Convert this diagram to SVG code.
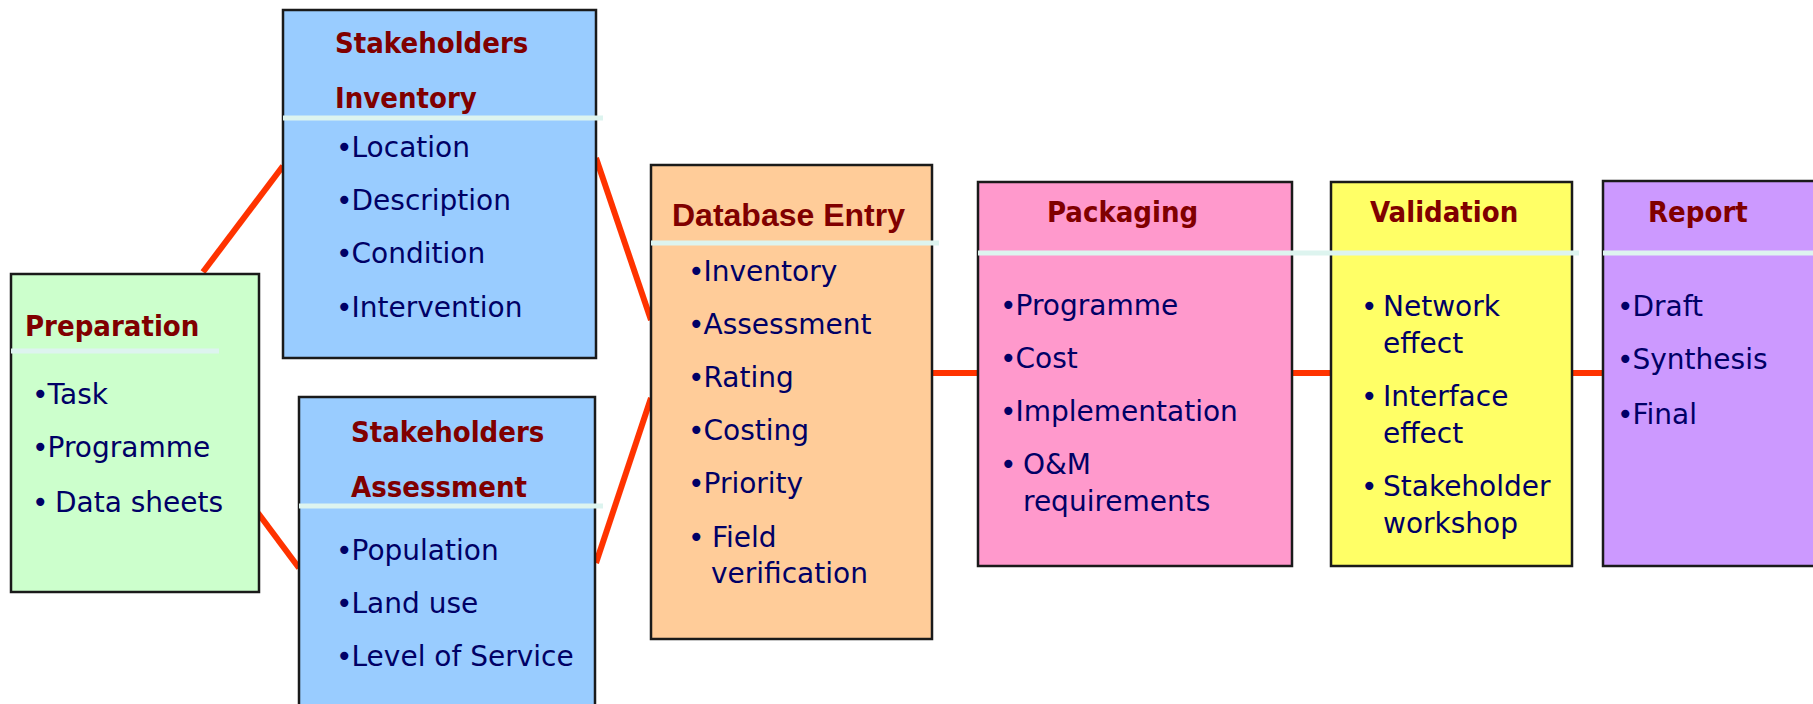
<svg xmlns="http://www.w3.org/2000/svg" width="1813" height="704" viewBox="0 0 1813 704">
  <style>
    .box { stroke: #1a1a1a; stroke-width: 2.5; }
    .sep { stroke: #DDF4EF; stroke-width: 5; }
    .link { stroke: #FF3300; stroke-width: 6; fill: none; }
    .title { font-family: "DejaVu Sans Condensed", "DejaVu Sans", sans-serif; font-stretch: condensed; font-weight: bold; font-size: 29px; fill: #800000; }
    .title2 { font-family: "Liberation Sans", Arial, sans-serif; font-weight: bold; font-size: 32px; fill: #800000; }
    .item { font-family: "DejaVu Sans", Verdana, sans-serif; font-size: 28px; fill: #000066; }
  </style>
  <rect width="1813" height="704" fill="#ffffff"/>

  <!-- connectors -->
  <g id="connectors">
    <line class="link" x1="203" y1="272" x2="283" y2="166"/>
    <line class="link" x1="258" y1="513" x2="299" y2="568"/>
    <line class="link" x1="596" y1="158" x2="651" y2="320"/>
    <line class="link" x1="596" y1="563" x2="651" y2="398"/>
    <line class="link" x1="932" y1="373" x2="978" y2="373"/>
    <line class="link" x1="1292" y1="373" x2="1331" y2="373"/>
    <line class="link" x1="1572" y1="373" x2="1603" y2="373"/>
  </g>

  <!-- Preparation -->
  <g id="preparation">
    <rect class="box" x="11" y="274" width="248" height="318" fill="#CCFFCC"/>
    <line class="sep" x1="11" y1="351" x2="219" y2="351"/>
    <text class="title" x="25" y="336">Preparation</text>
    <text class="item" x="32" y="404">•<tspan dx="-1">Task</tspan></text>
    <text class="item" x="32" y="457">•<tspan dx="-1">Programme</tspan></text>
    <text class="item" x="32" y="512">•<tspan x="55">Data sheets</tspan></text>
  </g>

  <!-- Stakeholders Inventory -->
  <g id="stakeholders-inventory">
    <rect class="box" x="283" y="10" width="313" height="348" fill="#99CCFF"/>
    <line class="sep" x1="283" y1="118" x2="603" y2="118"/>
    <text class="title" x="335" y="53">Stakeholders</text>
    <text class="title" x="335" y="108">Inventory</text>
    <text class="item" x="336" y="157">•<tspan dx="-1">Location</tspan></text>
    <text class="item" x="336" y="210">•<tspan dx="-1">Description</tspan></text>
    <text class="item" x="336" y="263">•<tspan dx="-1">Condition</tspan></text>
    <text class="item" x="336" y="317">•<tspan dx="-1">Intervention</tspan></text>
  </g>

  <!-- Stakeholders Assessment -->
  <g id="stakeholders-assessment">
    <rect class="box" x="299" y="397" width="296" height="330" fill="#99CCFF"/>
    <line class="sep" x1="299" y1="506" x2="603" y2="506"/>
    <text class="title" x="351" y="442">Stakeholders</text>
    <text class="title" x="351" y="497">Assessment</text>
    <text class="item" x="336" y="560">•<tspan dx="-1">Population</tspan></text>
    <text class="item" x="336" y="613">•<tspan dx="-1">Land use</tspan></text>
    <text class="item" x="336" y="666">•<tspan dx="-1">Level of Service</tspan></text>
  </g>

  <!-- Database Entry -->
  <g id="database-entry">
    <rect class="box" x="651" y="165" width="281" height="474" fill="#FFCC99"/>
    <line class="sep" x1="651" y1="243" x2="939" y2="243"/>
    <text class="title2" x="672" y="226">Database Entry</text>
    <text class="item" x="688" y="281">•<tspan dx="-1">Inventory</tspan></text>
    <text class="item" x="688" y="334">•<tspan dx="-1">Assessment</tspan></text>
    <text class="item" x="688" y="387">•<tspan dx="-1">Rating</tspan></text>
    <text class="item" x="688" y="440">•<tspan dx="-1">Costing</tspan></text>
    <text class="item" x="688" y="493">•<tspan dx="-1">Priority</tspan></text>
    <text class="item" x="688" y="547">•<tspan x="712">Field</tspan></text>
    <text class="item" x="711" y="583">verification</text>
  </g>

  <!-- Packaging -->
  <g id="packaging">
    <rect class="box" x="978" y="182" width="314" height="384" fill="#FF99CC"/>
    <text class="title" x="1047" y="222">Packaging</text>
    <text class="item" x="1000" y="315">•<tspan dx="-1">Programme</tspan></text>
    <text class="item" x="1000" y="368">•<tspan dx="-1">Cost</tspan></text>
    <text class="item" x="1000" y="421">•<tspan dx="-1">Implementation</tspan></text>
    <text class="item" x="1000" y="474">•<tspan x="1023">O&amp;M</tspan></text>
    <text class="item" x="1023" y="511">requirements</text>
  </g>

  <!-- Validation -->
  <g id="validation">
    <rect class="box" x="1331" y="182" width="241" height="384" fill="#FFFF66"/>
    <text class="title" x="1370" y="222">Validation</text>
    <text class="item" x="1361" y="316">•<tspan x="1383">Network</tspan></text>
    <text class="item" x="1383" y="353">effect</text>
    <text class="item" x="1361" y="406">•<tspan x="1383">Interface</tspan></text>
    <text class="item" x="1383" y="443">effect</text>
    <text class="item" x="1361" y="496">•<tspan x="1383">Stakeholder</tspan></text>
    <text class="item" x="1383" y="533">workshop</text>
  </g>

  <!-- shared rule under the Packaging and Validation headings -->
  <line class="sep" x1="978" y1="253" x2="1579" y2="253"/>

  <!-- Report -->
  <g id="report">
    <rect class="box" x="1603" y="181" width="230" height="385" fill="#CC99FF"/>
    <line class="sep" x1="1603" y1="253" x2="1813" y2="253"/>
    <text class="title" x="1648" y="222">Report</text>
    <text class="item" x="1617" y="316">•<tspan dx="-1">Draft</tspan></text>
    <text class="item" x="1617" y="369">•<tspan dx="-1">Synthesis</tspan></text>
    <text class="item" x="1617" y="424">•<tspan dx="-1">Final</tspan></text>
  </g>
</svg>
